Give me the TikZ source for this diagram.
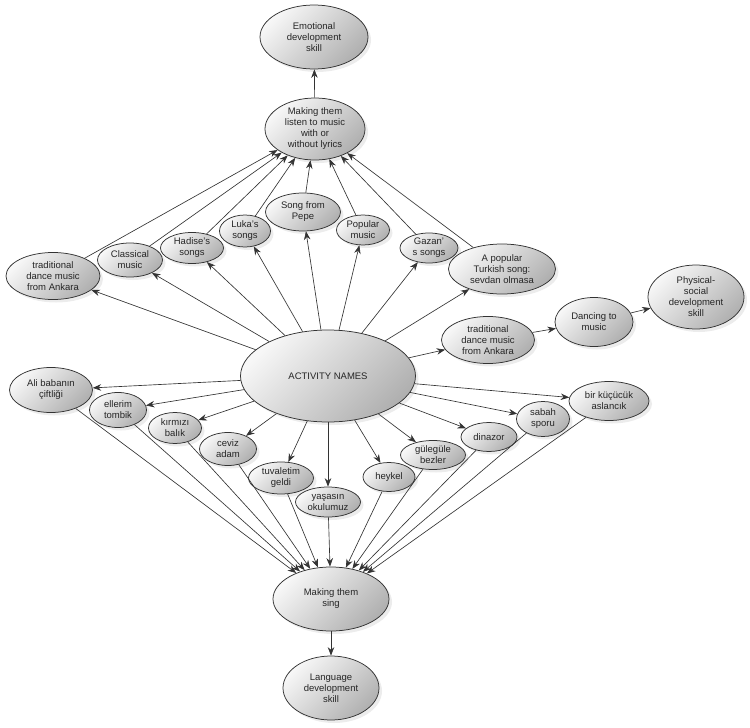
\documentclass[tikz,border=0pt]{standalone}
\usepackage{fontspec}
\setmainfont{Liberation Sans}
\usetikzlibrary{positioning, arrows.meta, shapes.geometric, shadows}

\begin{document}
\begin{tikzpicture}[
    x=1pt, y=-1pt,
    font=\fontsize{9.5}{11}\selectfont,
    >={Stealth[length=8.5pt, width=6.5pt]},
    bubble/.style={ellipse, draw=black!80, line width=0.75pt, inner sep=0pt, align=center, text=black!85,
        top color=gray!6, bottom color=gray!62, shading angle=45,
        drop shadow={opacity=0.15, shadow xshift=3pt, shadow yshift=-3pt}},
    sz/.style 2 args={minimum width=#1pt, minimum height=#2pt},
    arrow/.style={->, draw=black!80, line width=0.65pt}
]
\useasboundingbox (0,0) rectangle (750,728);

% Centre
\node[bubble, sz={175}{92}] (activity) at (328,376) {ACTIVITY NAMES};

% Listening branch
\node[bubble, sz={108}{64}] (emotional) at (314,37) {Emotional\\development\\skill};
\node[bubble, sz={100}{62}] (listen) at (315,129) {Making them\\listen to music\\with or\\without lyrics};

\node[bubble, sz={94}{47}] (trad_left) at (53,276) {traditional\\dance music\\from Ankara};
\node[bubble, sz={65}{34}] (classical) at (130,260) {Classical\\music};
\node[bubble, sz={63}{31}] (hadise) at (192,248) {Hadise's\\songs};
\node[bubble, sz={51}{32}] (luka) at (245,231) {Luka's\\songs};
\node[bubble, sz={75}{38}] (pepe) at (303,212) {Song from\\Pepe};
\node[bubble, sz={53}{30}] (popular) at (363,230) {Popular\\music};
\node[bubble, sz={58}{30}] (gazan) at (429,248) {Gazan'\\s songs};
\node[bubble, sz={107}{50}] (sevdan) at (502,269) {A popular\\Turkish song:\\sevdan olmasa};

% Dancing branch
\node[bubble, sz={93}{47}] (trad_right) at (488,340) {traditional\\dance music\\from Ankara};
\node[bubble, sz={78}{49}] (dancing) at (594,322) {Dancing to\\music};
\node[bubble, sz={96}{64}] (physical) at (696,297) {Physical-\\social\\development\\skill};

% Singing branch
\node[bubble, sz={83}{45}] (ali) at (51,390) {Ali babanın\\çiftliği};
\node[bubble, sz={57}{35}] (ellerim) at (118,410) {ellerim\\tombik};
\node[bubble, sz={53}{31}] (kirmizi) at (175,428) {kırmızı\\balık};
\node[bubble, sz={57}{33}] (ceviz) at (228,449) {ceviz\\adam};
\node[bubble, sz={65}{32}] (tuvalet) at (281,478) {tuvaletim\\geldi};
\node[bubble, sz={65}{30}] (yasasin) at (328,502) {yaşasın\\okulumuz};
\node[bubble, sz={52}{29}] (heykel) at (389,477) {heykel};
\node[bubble, sz={65}{29}] (gulegule) at (433,455) {gülegüle\\bezler};
\node[bubble, sz={56}{29}] (dinazor) at (489,437) {dinazor};
\node[bubble, sz={53}{35}] (sabah) at (543,419) {sabah\\sporu};
\node[bubble, sz={80}{39}] (aslan) at (609,401) {bir küçücük\\aslancık};

\node[bubble, sz={116}{64}] (sing) at (331,599) {Making them\\sing};
\node[bubble, sz={96}{64}] (language) at (331,688) {Language\\development\\skill};

% Activity to listening songs
\draw[arrow] (activity) -- (trad_left);
\draw[arrow] (activity) -- (classical);
\draw[arrow] (activity) -- (hadise);
\draw[arrow] (activity) -- (luka);
\draw[arrow] (activity) -- (pepe);
\draw[arrow] (activity) -- (popular);
\draw[arrow] (activity) -- (gazan);
\draw[arrow] (activity) -- (sevdan);

% Songs to listening
\draw[arrow] (trad_left) -- (listen);
\draw[arrow] (classical) -- (listen);
\draw[arrow] (hadise) -- (listen);
\draw[arrow] (luka) -- (listen);
\draw[arrow] (pepe) -- (listen);
\draw[arrow] (popular) -- (listen);
\draw[arrow] (gazan) -- (listen);
\draw[arrow] (sevdan) -- (listen);
\draw[arrow] (listen) -- (emotional);

% Dancing
\draw[arrow] (activity) -- (trad_right);
\draw[arrow] (trad_right) -- (dancing);
\draw[arrow] (dancing) -- (physical);

% Activity to singing songs
\draw[arrow] (activity) -- (ali);
\draw[arrow] (activity) -- (ellerim);
\draw[arrow] (activity) -- (kirmizi);
\draw[arrow] (activity) -- (ceviz);
\draw[arrow] (activity) -- (tuvalet);
\draw[arrow] (activity) -- (yasasin);
\draw[arrow] (activity) -- (heykel);
\draw[arrow] (activity) -- (gulegule);
\draw[arrow] (activity) -- (dinazor);
\draw[arrow] (activity) -- (sabah);
\draw[arrow] (activity) -- (aslan);

% Songs to singing
\draw[arrow] (ali) -- (sing);
\draw[arrow] (ellerim) -- (sing);
\draw[arrow] (kirmizi) -- (sing);
\draw[arrow] (ceviz) -- (sing);
\draw[arrow] (tuvalet) -- (sing);
\draw[arrow] (yasasin) -- (sing);
\draw[arrow] (heykel) -- (sing);
\draw[arrow] (gulegule) -- (sing);
\draw[arrow] (dinazor) -- (sing);
\draw[arrow] (sabah) -- (sing);
\draw[arrow] (aslan) -- (sing);
\draw[arrow] (sing) -- (language);

\end{tikzpicture}
\end{document}
